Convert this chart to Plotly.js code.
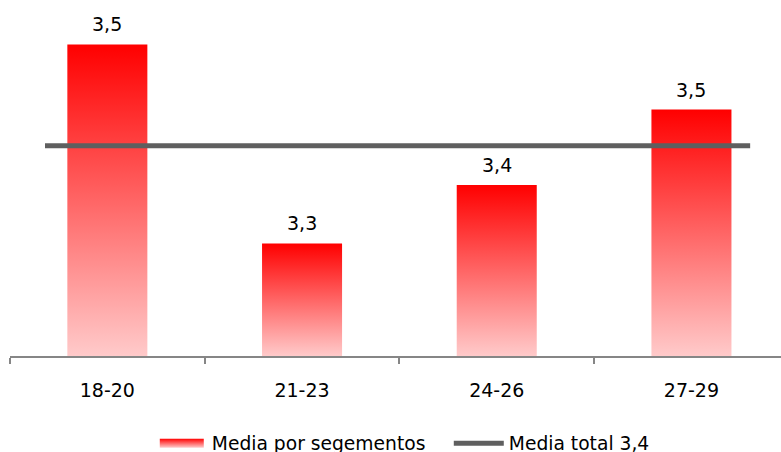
<!DOCTYPE html>
<html>
<head>
<meta charset="utf-8">
<script src="https://cdn.plot.ly/plotly-3.0.1.min.js"></script>
<style>
  html, body { margin: 0; padding: 0; background: #fff; overflow: hidden; width: 781px; height: 452px; }
  #chart { width: 781px; height: 470px; }
</style>
</head>
<body>
<div id="chart"></div>
<script>
// ---- data ----
const categories = ['18-20', '21-23', '24-26', '27-29'];
const values = [3.535, 3.321, 3.384, 3.465];
const meanTotal = 3.426;
const seriesName = 'Media por segementos';
const meanName = 'Media total';

const axisMin = 3.2;
const axisMax = 3.5613;

const fmt = v => v.toFixed(1).replace('.', ',');
const FONT = 'DejaVu Sans, Verdana, sans-serif';

const barTrace = {
  type: 'bar',
  x: categories,
  y: values.map(v => v - axisMin),
  base: axisMin,
  name: seriesName,
  marker: { color: '#ff4040', line: { width: 0 } },
  hoverinfo: 'skip',
  showlegend: true
};

const annotations = categories.map((c, i) => ({
  x: c, y: values[i], xref: 'x', yref: 'y',
  text: fmt(values[i]), showarrow: false,
  yanchor: 'bottom', yshift: 7,
  font: { family: FONT, size: 19, color: '#000' }
}));

const layout = {
  width: 781, height: 470,
  margin: { l: 10, r: 0, t: 20, b: 114 },
  paper_bgcolor: '#fff', plot_bgcolor: '#fff',
  font: { family: FONT, size: 19, color: '#000' },
  bargap: 0.589,
  xaxis: {
    type: 'category',
    range: [-0.5, 3.46],
    tickson: 'boundaries',
    ticks: 'outside', ticklen: 6, tickwidth: 1.5, tickcolor: '#868686',
    showline: true, linecolor: '#868686', linewidth: 1.5,
    showgrid: false, zeroline: false,
    ticklabelstandoff: 16,
    tickfont: { family: FONT, size: 19, color: '#000' }
  },
  yaxis: {
    range: [axisMin, axisMax],
    visible: false, showgrid: false, zeroline: false
  },
  shapes: [{
    type: 'line', xref: 'paper', yref: 'y',
    x0: 0.0454, x1: 0.960, y0: meanTotal, y1: meanTotal,
    line: { color: '#5f5f5f', width: 5 },
    showlegend: true,
    name: meanName + ' ' + fmt(meanTotal)
  }],
  annotations: annotations,
  showlegend: true,
  legend: {
    orientation: 'h',
    x: 0.1839, xanchor: 'left',
    y: -0.2039, yanchor: 'top',
    font: { family: FONT, size: 18.7, color: '#000' },
    itemwidth: 50,
    entrywidth: 232,
    bgcolor: 'rgba(0,0,0,0)'
  }
};

Plotly.newPlot('chart', [barTrace], layout, { displayModeBar: false }).then(gd => {
  const ns = 'http://www.w3.org/2000/svg';
  const svg = gd.querySelector('svg.main-svg');
  let defs = svg.querySelector('defs');
  if (!defs) { defs = document.createElementNS(ns, 'defs'); svg.insertBefore(defs, svg.firstChild); }
  const grad = document.createElementNS(ns, 'linearGradient');
  grad.setAttribute('id', 'barGrad');
  grad.setAttribute('x1', '0'); grad.setAttribute('y1', '0');
  grad.setAttribute('x2', '0'); grad.setAttribute('y2', '1');
  [['0%', '#ff0000'], ['100%', '#ffcaca']].forEach(([o, c]) => {
    const s = document.createElementNS(ns, 'stop');
    s.setAttribute('offset', o); s.setAttribute('stop-color', c);
    grad.appendChild(s);
  });
  defs.appendChild(grad);
  gd.querySelectorAll('.barlayer .point path').forEach(p => { p.style.fill = 'url(#barGrad)'; });
  const lp = gd.querySelector('.legend .traces .legendpoints path');
  if (lp) {
    lp.setAttribute('d', 'M-22,-4.5h44v9h-44Z');
    lp.style.fill = 'url(#barGrad)';
    lp.style.stroke = 'none';
  }
});
</script>
</body>
</html>
